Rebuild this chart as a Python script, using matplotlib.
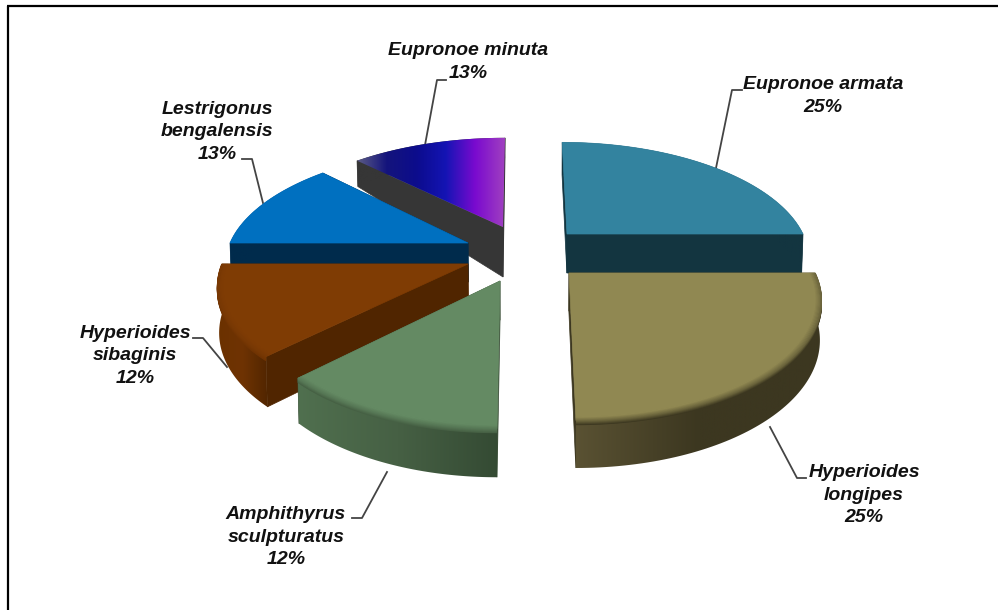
import numpy as np
import matplotlib
matplotlib.use("Agg")
import matplotlib.pyplot as plt
from matplotlib.colors import to_rgb, LinearSegmentedColormap
from matplotlib.patches import Polygon, PathPatch
from matplotlib.path import Path

# ---- data ----
species = ["Eupronoe armata", "Hyperioides longipes", "Amphithyrus sculpturatus",
           "Hyperioides sibaginis", "Lestrigonus bengalensis", "Eupronoe minuta"]
label_lines = ["Eupronoe armata", "Hyperioides\nlongipes", "Amphithyrus\nsculpturatus",
               "Hyperioides\nsibaginis", "Lestrigonus\nbengalensis", "Eupronoe minuta"]
values = [25, 25, 12.5, 12.5, 12.5, 12.5]
percent_labels = ["25%", "25%", "12%", "12%", "13%", "13%"]

# ---- styles / layout ----
W, H = 998, 610
SHRINK = 0.995
# apex x, apex y, R, R*tilt, height, height power, perspective k, vanishing x
geom = [(567, 234, 236, 110, 39, 1, 0.2, 538), (569, 273, 246, 118, 38, 1, 0.2, 541),
        (500, 281, 243, 118, 39, 1, 0.2, 512), (468, 264, 246, 117, 45, 1, 0.15, 530),
        (468, 243, 238, 110, 39, 1, 0.157, 530), (503, 227, 238, 107, 50, 5, 0.2, 515)]
top_cols = [["#33839F", "#33839F"], ["#908852", "#908852"], ["#648A63", "#648A63"],
            ["#7F3C04", "#7F3C04"], ["#0070C0", "#0070C0"],
            ["#5C5C86", "#14147C", "#0C0C8C", "#1414B4", "#7A0ACF", "#A040C0"]]
cut_cols = ["#133540", "#3C3720", "#3C5039", "#502500", "#002B4C", "#363636"]
wall_cols = [["#133540", "#133540"], ["#5A5233", "#3C3720", "#3C3720"],
             ["#50704F", "#466044", "#344A33"], ["#6B3100", "#6F3303", "#502500"],
             ["#002B4C", "#002B4C"], ["#363636", "#363636"]]
draw_order = [5, 4, 3, 2, 0, 1]
text_xy = [(823, 96), (864, 495), (286, 537), (135, 356), (217, 132), (468, 62)]
leaders = [[(716, 168), (732, 90), (742, 90)], [(770, 427), (797, 478), (806, 478)],
           [(387, 472), (362, 518), (352, 518)], [(227, 367), (203, 338), (193, 338)],
           [(263, 203), (252, 159), (242, 159)], [(425, 145), (437, 80), (446, 80)]]

fig = plt.figure(figsize=(W / 100, H / 100), dpi=100)
ax = fig.add_axes([0, 0, 1, 1])
ax.set_xlim(0, W)
ax.set_ylim(H, 0)
ax.axis("off")


def project(g, th):
    ax0, ay0, R, Rt, h, p, k, vx = g
    s = 1 / (1 + k * np.cos(th))
    x = ax0 + R * np.sin(th) * s + (ax0 - vx) * (s - 1)
    y = ay0 - Rt * np.cos(th) * s
    return x, y, s


def lower(x, y, s, g):
    return g[7] + (x - g[7]) * SHRINK, y + g[4] * s ** g[5]


def grad_fill(verts, colors, x0, x1, z):
    cmap = LinearSegmentedColormap.from_list("g", colors)
    path = Path(np.vstack([verts, verts[0]]), closed=True)
    ys = verts[:, 1]
    im = ax.imshow(np.linspace(0, 1, 256)[None, :], cmap=cmap, aspect="auto",
                   extent=(x0, x1, ys.max() + 1, ys.min() - 1), zorder=z)
    im.set_clip_path(PathPatch(path, transform=ax.transData))
    ax.set_xlim(0, W)
    ax.set_ylim(H, 0)


edges = np.cumsum([0] + values) / sum(values) * 2 * np.pi
for n, i in enumerate(draw_order):
    g = geom[i]
    z = 2 + n
    th = np.linspace(edges[i], edges[i + 1], 80)
    x, y, s = project(g, th)
    xb, yb = lower(x, y, s, g)
    apex = np.array([g[0], g[1]])
    abx, aby = lower(g[0], g[1], 1.0, g)
    # cut faces
    for k in (0, -1):
        ax.add_patch(Polygon([apex, (x[k], y[k]), (xb[k], yb[k]), (abx, aby)],
                             fc=cut_cols[i], ec=cut_cols[i], lw=0.5, zorder=z))
    # outer wall
    wall = np.vstack([np.c_[x, y], np.c_[xb, yb][::-1]])
    grad_fill(wall, wall_cols[i], x.min() - 2, x.max() + 2, z)
    # top face
    top = np.vstack([apex, np.c_[x, y]])
    if len(top_cols[i]) > 2:
        grad_fill(top, top_cols[i], x.min(), x.max(), z + 0.4)
    else:
        ax.add_patch(Polygon(top, fc=top_cols[i][0], ec=top_cols[i][0], lw=0.5, zorder=z + 0.4))
    # soft rim between wall and top
    top_c = np.array(to_rgb(top_cols[i][0]))
    wall_c = np.array(to_rgb(wall_cols[i][-1 if i < 2 else 1]))
    if i in (1, 2, 3):
        for d in np.linspace(4, -3, 15):
            f = (d + 3) / 7
            if d > 0:
                xr, yr = x, y + d
            else:
                e = -d / 118
                xr, yr = apex[0] + (x - apex[0]) * (1 - e), apex[1] + (y - apex[1]) * (1 - e)
            ax.plot(xr, yr, color=tuple(top_c * (1 - f) + wall_c * f), lw=1.0,
                    solid_capstyle="butt", zorder=z + 0.5)

# labels
for txt, pct, pos, pts in zip(label_lines, percent_labels, text_xy, leaders):
    ax.text(pos[0], pos[1], txt + "\n" + pct, ha="center", va="center", multialignment="center",
            family="Liberation Sans", weight="bold", style="italic", fontsize=14,
            color="#111111", linespacing=1.43, zorder=20)
    ax.plot(*zip(*pts), color="#444444", lw=1.3, zorder=1)

# frame
ax.plot([8, 8], [H, 6], color="black", lw=1.6, zorder=30, solid_capstyle="butt")
ax.plot([7.5, W], [6, 6], color="black", lw=1.6, zorder=30, solid_capstyle="butt")

fig.savefig("out.png", dpi=100)
